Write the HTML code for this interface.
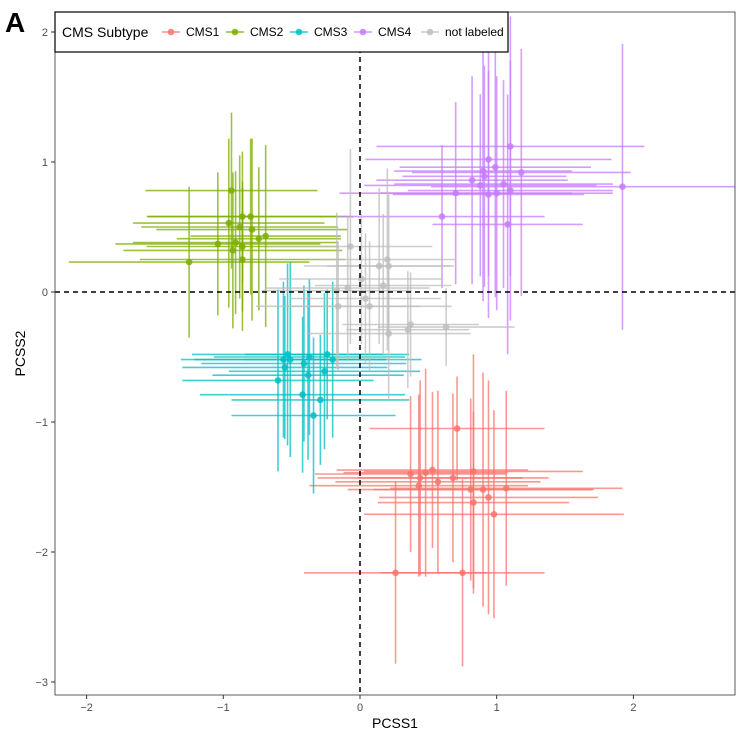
<!DOCTYPE html>
<html><head><meta charset="utf-8"><style>
body{margin:0;background:#fff;font-family:"Liberation Sans",Arial,sans-serif}
svg text{font-family:"Liberation Sans",Arial,sans-serif}
</style></head><body>
<svg id="chart" width="742" height="736" viewBox="0 0 742 736" xmlns="http://www.w3.org/2000/svg">
<rect width="742" height="736" fill="#fff"/>
<g id="marks"></g>
<g id="axes"></g>
</svg>
<script>
const xTicks=[-2,-1,0,1,2];
const yTicks=[2,1,0,-1,-2,-3];
// [x, y, xHalfError, yHalfError]
const cms1=[[0.71,-1.05,0.64,0.4],[0.26,-2.16,0.67,0.7],[0.75,-2.16,0.6,0.72],[0.37,-1.40,0.7,0.6],[0.44,-1.43,0.75,0.75],[0.48,-1.39,0.6,0.8],[0.53,-1.37,0.7,0.6],[0.57,-1.46,0.75,0.7],[0.68,-1.43,0.7,0.65],[0.83,-1.38,0.8,0.9],[0.81,-1.52,0.9,0.7],[0.90,-1.52,0.8,0.9],[0.94,-1.58,0.8,0.9],[0.83,-1.62,0.7,0.7],[0.98,-1.71,0.95,0.8],[1.07,-1.51,0.85,0.75],[0.43,-1.49,0.8,0.7]];
const cms2=[[-0.94,0.78,0.63,0.6],[-1.25,0.23,0.88,0.58],[-1.04,0.37,0.75,0.55],[-0.86,0.58,0.7,0.5],[-0.80,0.58,0.75,0.6],[-0.96,0.53,0.7,0.65],[-0.88,0.50,0.72,0.55],[-0.79,0.48,0.7,0.7],[-0.74,0.41,0.6,0.55],[-0.69,0.43,0.55,0.7],[-0.91,0.38,0.75,0.55],[-0.93,0.32,0.8,0.6],[-0.86,0.25,0.75,0.55],[-0.86,0.35,0.7,0.5]];
const cms3=[[-0.53,-0.48,0.7,0.7],[-0.56,-0.52,0.75,0.6],[-0.51,-0.52,0.7,0.75],[-0.41,-0.55,0.75,0.6],[-0.37,-0.50,0.7,0.6],[-0.24,-0.48,0.6,0.5],[-0.20,-0.52,0.65,0.6],[-0.55,-0.58,0.75,0.55],[-0.38,-0.64,0.7,0.65],[-0.26,-0.61,0.7,0.6],[-0.60,-0.68,0.7,0.7],[-0.42,-0.79,0.75,0.6],[-0.29,-0.83,0.65,0.5],[-0.34,-0.95,0.6,0.6]];
const cms4=[[1.10,1.12,0.98,1.0],[0.94,1.02,0.9,0.9],[0.99,0.96,0.7,1.0],[1.18,0.92,0.8,0.95],[0.90,0.93,0.65,1.0],[0.91,0.89,0.6,0.85],[0.82,0.86,0.7,0.8],[0.88,0.82,0.85,0.7],[1.05,0.83,0.8,0.8],[1.10,0.78,0.75,1.0],[0.70,0.76,0.85,0.7],[0.94,0.75,0.7,0.95],[1.00,0.76,0.85,0.9],[1.92,0.81,1.4,1.1],[0.60,0.58,0.75,0.55],[1.08,0.52,0.55,1.0]];
const notLabeled=[[-0.07,0.35,0.6,0.75],[0.20,0.25,0.5,0.7],[0.14,0.20,0.55,0.6],[0.21,0.20,0.45,0.55],[0.01,0.10,0.6,0.5],[0.17,0.05,0.5,0.55],[-0.17,0.01,0.55,0.6],[-0.09,0.03,0.6,0.55],[0.04,-0.05,0.55,0.5],[0.07,-0.11,0.6,0.5],[-0.16,-0.11,0.6,0.5],[0.37,-0.25,0.5,0.4],[0.63,-0.27,0.5,0.3],[0.35,-0.29,0.45,0.45],[0.21,-0.32,0.6,0.5]];
const seriesNames=["CMS1","CMS2","CMS3","CMS4","not labeled"];
const seriesData=[cms1,cms2,cms3,cms4,notLabeled];
const colors=["#F8766D","#7CAE00","#00BFC4","#C77CFF","#BEBEBE"];

const L=55,R=735,T=12,B=695;
const sx=v=>360+v*136.7, sy=v=>292-v*130;
const NS="http://www.w3.org/2000/svg";
function mk(tag,attrs,parent){const e=document.createElementNS(NS,tag);for(const k in attrs)e.setAttribute(k,attrs[k]);parent.appendChild(e);return e;}
const svg=document.getElementById('chart');
const marks=document.getElementById('marks');
const axes=document.getElementById('axes');
const clip=mk('clipPath',{id:'pc'},svg);mk('rect',{x:L,y:T,width:R-L,height:B-T},clip);
marks.setAttribute('clip-path','url(#pc)');
seriesData.forEach((arr,si)=>{
  const g=mk('g',{},marks);
  
  
  arr.forEach(d=>{
    const h=mk('line',{x1:sx(d[0]-d[2]),x2:sx(d[0]+d[2]),y1:sy(d[1]),y2:sy(d[1]),stroke:colors[si],'stroke-width':1.6,'stroke-opacity':0.75},g);
    
    
    const v=mk('line',{x1:sx(d[0]),x2:sx(d[0]),y1:sy(d[1]-d[3]),y2:sy(d[1]+d[3]),stroke:colors[si],'stroke-width':1.6,'stroke-opacity':0.75},g);
    
    
    const c=mk('circle',{cx:sx(d[0]),cy:sy(d[1]),r:3.3,fill:colors[si],'fill-opacity':0.85},g);
    
    
  });
});
const h0=mk('line',{x1:L,x2:R,y1:sy(0),y2:sy(0),stroke:'#000','stroke-width':1.5,'stroke-dasharray':'5,4'},axes);


const v0=mk('line',{x1:sx(0),x2:sx(0),y1:T,y2:B,stroke:'#000','stroke-width':1.5,'stroke-dasharray':'5,4'},axes);


const fr=mk('rect',{x:L,y:T,width:R-L,height:B-T,fill:'none',stroke:'#333','stroke-width':0.8},axes);


xTicks.forEach(t=>{
  mk('line',{x1:sx(t),x2:sx(t),y1:B,y2:B+4,stroke:'#333'},axes);
  const tx=mk('text',{x:sx(t),y:B+16,'text-anchor':'middle','font-size':11,fill:'#4d4d4d'},axes);
  tx.textContent=(t<0?'\u2212'+(-t):t);
  
  
});
yTicks.forEach(t=>{
  mk('line',{x1:L-4,x2:L,y1:sy(t),y2:sy(t),stroke:'#333'},axes);
  const tx=mk('text',{x:L-7,y:sy(t)+4,'text-anchor':'end','font-size':11,fill:'#4d4d4d'},axes);
  tx.textContent=(t<0?'\u2212'+(-t):t);
  
  
});
const xt=mk('text',{x:(L+R)/2,y:728,'text-anchor':'middle','font-size':14},axes);xt.textContent='PCSS1';


const yt=mk('text',{x:25,y:(T+B)/2,'text-anchor':'middle','font-size':14,transform:'rotate(-90 25 '+((T+B)/2)+')'},axes);yt.textContent='PCSS2';


const pl=mk('text',{x:5,y:32,'font-size':28,'font-weight':'bold'},axes);pl.textContent='A';


const lg=mk('g',{},axes);


mk('rect',{x:55,y:12,width:453,height:40,fill:'#fff',stroke:'#000','stroke-width':1.2},lg);
const lt=mk('text',{x:62,y:37,'font-size':14},lg);lt.textContent='CMS Subtype';
const lx=[162,226,290,354,421];
seriesNames.forEach((n,i)=>{
  const e=mk('g',{},lg);
  
  
  mk('line',{x1:lx[i],x2:lx[i]+18,y1:32,y2:32,stroke:colors[i],'stroke-width':1.6,'stroke-opacity':0.8},e);
  mk('circle',{cx:lx[i]+9,cy:32,r:3.3,fill:colors[i],'fill-opacity':0.85},e);
  const t=mk('text',{x:lx[i]+24,y:36,'font-size':12},e);t.textContent=n;
});
</script>
</body></html>
